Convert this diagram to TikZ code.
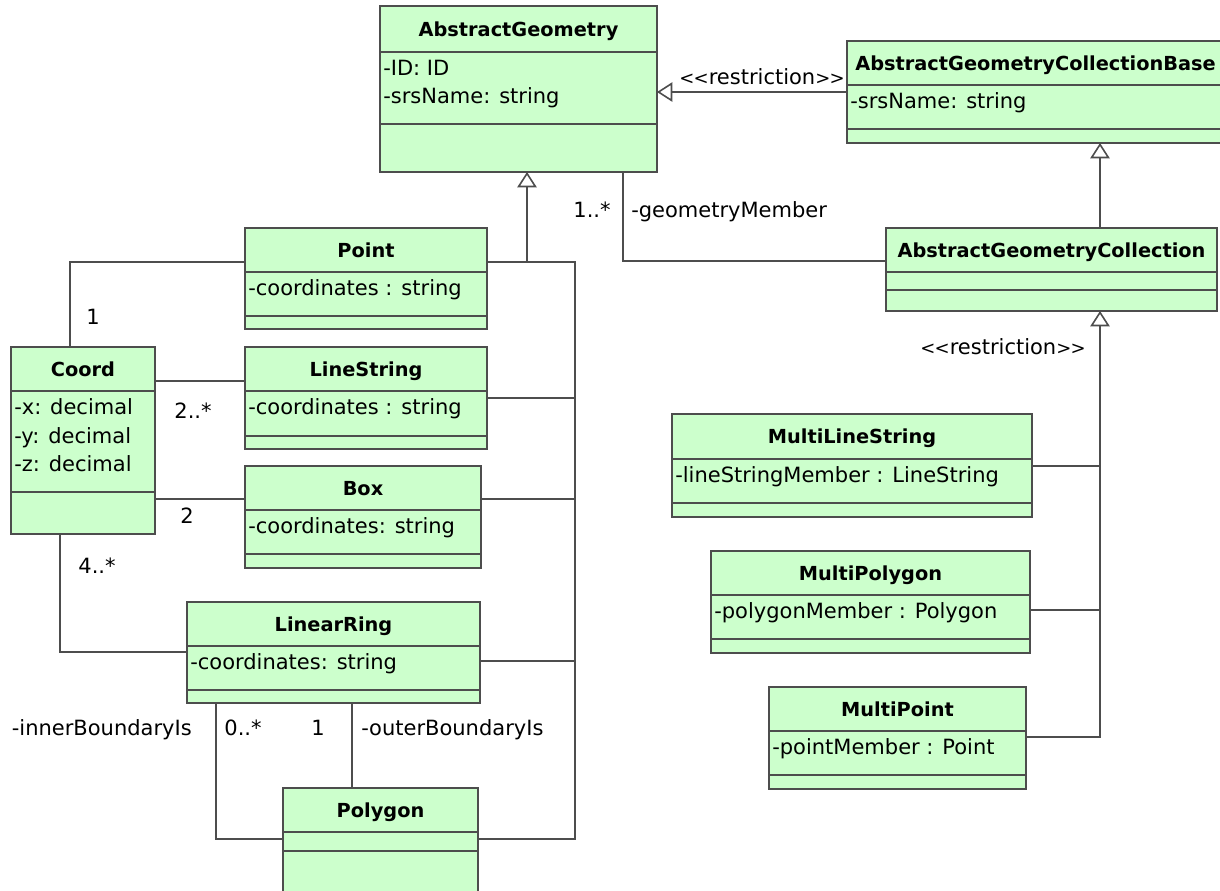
\documentclass[tikz,border=0pt]{standalone}
\usepackage{fontspec}
\setmainfont{DejaVu Sans}
\usetikzlibrary{fit,arrows.meta}

\definecolor{classfill}{HTML}{CCFFCC}
\definecolor{umlline}{HTML}{4D4D4D}

% stereotype brackets: small angle brackets, kept apart so no guillemet forms
\newcommand\smalllt{{\fontsize{13.5}{15}\selectfont<\kern-0.5pt<}}
\newcommand\smallgt{{\fontsize{13.5}{15}\selectfont>\kern-0.5pt>}}
\newcommand\stereo[1]{\smalllt#1\smallgt}

\tikzset{
  classbox/.style={draw=umlline, fill=classfill, line width=1.2pt, inner sep=0pt, outer sep=0pt},
  classline/.style={draw=umlline, line width=1.2pt},
  classname/.style={font=\fontsize{14.5}{17}\selectfont\bfseries, inner sep=0pt,
                    text height=10.6pt, text depth=0pt},
  attr/.style={font=\fontsize{15.75}{19}\selectfont, inner sep=0pt, anchor=west,
               text height=11.5pt, text depth=0pt},
  lbl/.style={font=\fontsize{15.75}{19}\selectfont, inner sep=0pt,
              text height=11.5pt, text depth=0pt},
  assoc/.style={draw=umlline, line width=1.2pt},
  gen/.style={draw=umlline, line width=1.2pt,
              -{Triangle[open, length=11.5pt, width=14.5pt, line width=1.2pt]}},
}

% #1 name, #2 x1, #3 y1, #4 x2, #5 y2, #6 first divider, #7 second divider, #8 title
\newcommand\umlclass[8]{%
  \node[classbox, fit={(#2,#3) (#4,#5)}] (#1) {};
  \draw[classline] (#2,#6) -- (#4,#6);
  \draw[classline] (#2,#7) -- (#4,#7);
  \node[classname] (#1-name) at ({(#2+#4)/2},{(#3+#6)/2}) {#8};
}

\begin{document}
\begin{tikzpicture}[x=0.75pt, y=-0.75pt]
\fill[white] (0,0) rectangle (1220,890);
\useasboundingbox (0,0) rectangle (1220,890);

% ---------- classes ----------
\umlclass{ag}{380}{6}{657}{172}{52}{124}{AbstractGeometry}
\node[attr] (ag-a1) at (383,67.5) {-ID: ID};
\node[attr] (ag-a2) at (383,96) {-srsName: string};

\umlclass{agcb}{847}{41}{1224}{143}{85}{129}{AbstractGeometryCollectionBase}
\node[attr] (agcb-a1) at (850,101) {-srsName: string};

\umlclass{agc}{886}{228}{1217}{311}{272}{290}{AbstractGeometryCollection}

\umlclass{point}{245}{228}{487}{329}{272}{316}{Point}
\node[attr] (point-a1) at (248,288) {-coordinates : string};

\umlclass{coord}{11}{347}{155}{534}{391}{492}{Coord}
\node[attr] (coord-a1) at (14,407) {-x: decimal};
\node[attr] (coord-a2) at (14,435.5) {-y: decimal};
\node[attr] (coord-a3) at (14,464) {-z: decimal};

\umlclass{ls}{245}{347}{487}{449}{391}{436}{LineString}
\node[attr] (ls-a1) at (248,407) {-coordinates : string};

\umlclass{box}{245}{466}{481}{568}{510}{554}{Box}
\node[attr] (box-a1) at (248,526) {-coordinates: string};

\umlclass{lr}{187}{602}{480}{703}{646}{690}{LinearRing}
\node[attr] (lr-a1) at (190,662) {-coordinates: string};

\umlclass{poly}{283}{788}{478}{896}{832}{851}{Polygon}

\umlclass{mls}{672}{414}{1032}{517}{459}{503}{MultiLineString}
\node[attr] (mls-a1) at (675,475) {-lineStringMember : LineString};

\umlclass{mpoly}{711}{551}{1030}{653}{595}{639}{MultiPolygon}
\node[attr] (mpoly-a1) at (714,611) {-polygonMember : Polygon};

\umlclass{mpt}{769}{687}{1026}{789}{731}{775}{MultiPoint}
\node[attr] (mpt-a1) at (772,747) {-pointMember : Point};

% ---------- helper points ----------
\coordinate (r92)  at (700,92);
\coordinate (j1)   at (527,262);
\coordinate (bus1) at (575,262);
\coordinate (bLS)  at (575,398);
\coordinate (bBox) at (575,499);
\coordinate (bLR)  at (575,661);
\coordinate (bPG)  at (575,839);
\coordinate (gm)   at (623,261);
\coordinate (bus2) at (1100,466);
\coordinate (bMPG) at (1100,610);
\coordinate (bMPT) at (1100,737);
\coordinate (c1)   at (70,262);
\coordinate (c2)   at (200,381);
\coordinate (c3)   at (200,499);
\coordinate (c4)   at (60,652);
\coordinate (c5)   at (216,839);
\coordinate (c6)   at (352,750);

% ---------- generalizations ----------
\draw[gen] (agcb.west |- r92) -- (ag.east |- r92);
\node[lbl] (rst1) at (762,77) {\stereo{restriction}};

\draw[gen] (agc.north -| bus2) -- (agcb.south -| bus2);

\draw[assoc] (point.east |- j1) -- (bus1) -- (bPG) -- (poly.east |- bPG);
\draw[gen] (j1) -- (ag.south -| j1);
\draw[assoc] (ls.east |- bLS) -- (bLS);
\draw[assoc] (box.east |- bBox) -- (bBox);
\draw[assoc] (lr.east |- bLR) -- (bLR);

\draw[assoc] (mls.east |- bus2) -- (bus2) -- (bMPT) -- (mpt.east |- bMPT);
\draw[assoc] (mpoly.east |- bMPG) -- (bMPG);
\draw[gen] (bus2) -- (agc.south -| bus2);
\node[lbl] (rst2) at (1003,347) {\stereo{restriction}};

% ---------- associations ----------
\draw[assoc] (ag.south -| gm) -- (gm) -- (agc.west |- gm);
\node[lbl] (gm-m) at (592,210) {1..*};
\node[lbl, anchor=west] (gm-r) at (631,210) {-geometryMember};

\draw[assoc] (point.west |- c1) -- (c1) -- (coord.north -| c1);
\node[lbl] (m1) at (93,317) {1};

\draw[assoc] (coord.east |- c2) -- (ls.west |- c2);
\node[lbl] (m2) at (193,411) {2..*};

\draw[assoc] (coord.east |- c3) -- (box.west |- c3);
\node[lbl] (m3) at (187,516) {2};

\draw[assoc] (coord.south -| c4) -- (c4) -- (lr.west |- c4);
\node[lbl] (m4) at (97,566) {4..*};

\draw[assoc] (lr.south -| c5) -- (c5) -- (poly.west |- c5);
\node[lbl, anchor=east] (inner) at (192,728) {-innerBoundaryIs};
\node[lbl] (m5) at (243,728) {0..*};

\draw[assoc] (lr.south -| c6) -- (poly.north -| c6);
\node[lbl] (m6) at (318,728) {1};
\node[lbl, anchor=west] (outer) at (361,728) {-outerBoundaryIs};

\end{tikzpicture}
\end{document}
